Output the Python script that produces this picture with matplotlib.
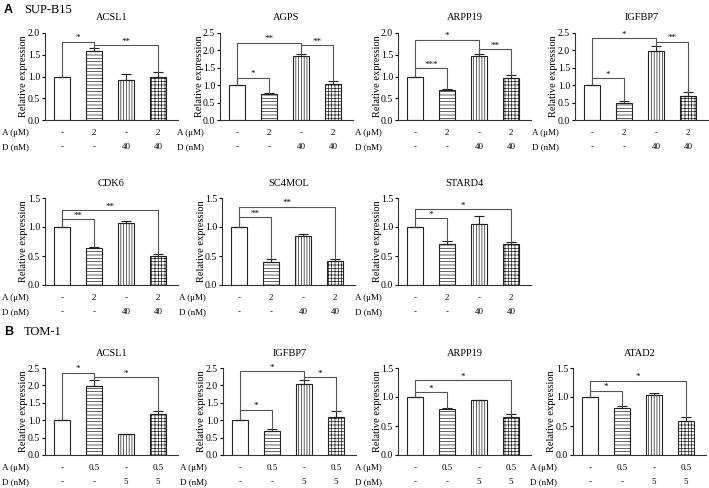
import matplotlib.pyplot as plt
import numpy as np

plt.rcParams['font.family'] = ['Liberation Serif', 'DejaVu Serif']
plt.rcParams['hatch.linewidth'] = 0.5

W, H = 709, 488

# treatment rows under the bars
a_sup = ["-", "2", "-", "2"]
d_sup = ["-", "-", "40", "40"]
a_tom = ["-", "0.5", "-", "0.5"]
d_tom = ["-", "-", "5", "5"]

# SUP-B15 (mean, upper error)
acsl1_sup = [1.00, 1.58, 0.93, 1.00]
acsl1_sup_err = [0.0, 0.07, 0.13, 0.11]
agps_sup = [1.00, 0.76, 1.83, 1.03]
agps_sup_err = [0.0, 0.03, 0.07, 0.10]
arpp19_sup = [1.00, 0.69, 1.47, 0.96]
arpp19_sup_err = [0.0, 0.02, 0.04, 0.08]
igfbp7_sup = [1.00, 0.48, 1.99, 0.69]
igfbp7_sup_err = [0.0, 0.08, 0.15, 0.11]
cdk6_sup = [1.00, 0.63, 1.07, 0.50]
cdk6_sup_err = [0.0, 0.02, 0.03, 0.03]
sc4mol_sup = [1.00, 0.39, 0.84, 0.41]
sc4mol_sup_err = [0.0, 0.05, 0.04, 0.03]
stard4_sup = [1.00, 0.70, 1.06, 0.70]
stard4_sup_err = [0.0, 0.06, 0.13, 0.05]

# TOM-1
acsl1_tom = [1.00, 1.98, 0.60, 1.17]
acsl1_tom_err = [0.0, 0.17, 0.01, 0.10]
igfbp7_tom = [1.00, 0.70, 2.04, 1.08]
igfbp7_tom_err = [0.0, 0.06, 0.12, 0.18]
arpp19_tom = [1.00, 0.79, 0.94, 0.65]
arpp19_tom_err = [0.0, 0.02, 0.005, 0.05]
atad2_tom = [1.00, 0.81, 1.04, 0.59]
atad2_tom_err = [0.0, 0.04, 0.03, 0.06]

# significance brackets: (bar i, bar j, bracket height, label)
acsl1_sup_sig = [(0, 1, 1.80, "*"), (1, 3, 1.72, "**")]
agps_sup_sig = [(0, 1, 1.22, "*"), (0, 2, 2.22, "**"), (2, 3, 2.15, "**")]
arpp19_sup_sig = [(0, 1, 1.19, "***"), (0, 2, 1.85, "*"), (2, 3, 1.63, "**")]
igfbp7_sup_sig = [(0, 1, 1.20, "*"), (0, 2, 2.35, "*"), (2, 3, 2.25, "**")]
cdk6_sup_sig = [(0, 1, 1.13, "**"), (0, 3, 1.29, "**")]
sc4mol_sup_sig = [(0, 1, 1.17, "**"), (0, 3, 1.35, "**")]
stard4_sup_sig = [(0, 1, 1.15, "*"), (0, 3, 1.31, "*")]
acsl1_tom_sig = [(0, 1, 2.36, "*"), (1, 3, 2.24, "*")]
igfbp7_tom_sig = [(0, 1, 1.30, "*"), (0, 2, 2.40, "*"), (2, 3, 2.24, "*")]
arpp19_tom_sig = [(0, 1, 1.08, "*"), (0, 3, 1.29, "*")]
atad2_tom_sig = [(0, 1, 1.11, "*"), (0, 3, 1.28, "*")]

fig = plt.figure(figsize=(W / 100, H / 100), dpi=100)

hatches = ['', '-----', '||||||', '+++++']


def panel(left, top, title, means, errs, ymax, sig, a_lab, d_lab, width=133, height=87):
    ax = fig.add_axes([left / W, 1 - (top + height) / H, width / W, height / H])
    x = np.arange(len(means))
    for i in x:
        ax.bar(x[i], means[i], 0.5, color='white', edgecolor='#222222',
               hatch=hatches[i], linewidth=0.8)
    ax.errorbar(x, means, yerr=[np.zeros(len(errs)), errs], fmt='none',
                ecolor='#222222', elinewidth=0.8, capsize=3.5, capthick=0.8)
    tops = np.array(means) + np.array(errs)
    for i, j, h, lab in sig:
        ax.plot([i, i, j, j], [tops[i], h, h, tops[j]], color='#555555', lw=0.8)
        ax.text((i + j) / 2, h + 3.5 / height * ymax, lab, ha='center', va='center',
                fontsize=6.5)

    ax.set_xlim(-0.53, 3.62)
    ax.set_ylim(0, ymax)
    ticks = np.arange(0, ymax + 1e-9, 0.5)
    ax.set_yticks(ticks)
    ax.set_yticklabels([f"{v:.1f}" for v in ticks])
    ax.tick_params(axis='y', direction='out', length=2.5, width=0.8, labelsize=7, pad=1)
    ax.tick_params(axis='x', length=0, labelbottom=False)
    for s in ['top', 'right']:
        ax.spines[s].set_visible(False)
    for s in ['left', 'bottom']:
        ax.spines[s].set_linewidth(0.8)
        ax.spines[s].set_color('#333333')

    ax.text(0.5, 1 + 15 / height, title, transform=ax.transAxes,
            ha='center', va='center', fontsize=7.5)
    ax.text(-21 / width, 0.5, "Relative expression", transform=ax.transAxes,
            rotation=90, ha='center', va='center', fontsize=7.5)

    trans = ax.get_xaxis_transform()
    ax.text(-43 / width, -13 / height, "A (μM)", transform=ax.transAxes,
            ha='left', va='center', fontsize=6.5)
    ax.text(-43 / width, -27 / height, "D (nM)", transform=ax.transAxes,
            ha='left', va='center', fontsize=6.5)
    for i in x:
        ax.text(i, -13 / height, a_lab[i], transform=trans, ha='center', va='center', fontsize=6.5)
        ax.text(i, -27 / height, d_lab[i], transform=trans, ha='center', va='center', fontsize=6.5)
    return ax


# A: SUP-B15
panel(45, 33, "ACSL1", acsl1_sup, acsl1_sup_err, 2.0, acsl1_sup_sig, a_sup, d_sup)
panel(220, 33, "AGPS", agps_sup, agps_sup_err, 2.5, agps_sup_sig, a_sup, d_sup)
panel(398, 33, "ARPP19", arpp19_sup, arpp19_sup_err, 2.0, arpp19_sup_sig, a_sup, d_sup)
panel(575, 33, "IGFBP7", igfbp7_sup, igfbp7_sup_err, 2.5, igfbp7_sup_sig, a_sup, d_sup)
panel(45, 198, "CDK6", cdk6_sup, cdk6_sup_err, 1.5, cdk6_sup_sig, a_sup, d_sup)
panel(222, 198, "SC4MOL", sc4mol_sup, sc4mol_sup_err, 1.5, sc4mol_sup_sig, a_sup, d_sup)
panel(398, 198, "STARD4", stard4_sup, stard4_sup_err, 1.5, stard4_sup_sig, a_sup, d_sup)

# B: TOM-1
panel(45, 368, "ACSL1", acsl1_tom, acsl1_tom_err, 2.5, acsl1_tom_sig, a_tom, d_tom)
panel(223, 368, "IGFBP7", igfbp7_tom, igfbp7_tom_err, 2.5, igfbp7_tom_sig, a_tom, d_tom)
panel(398, 368, "ARPP19", arpp19_tom, arpp19_tom_err, 1.5, arpp19_tom_sig, a_tom, d_tom)
panel(573, 368, "ATAD2", atad2_tom, atad2_tom_err, 1.5, atad2_tom_sig, a_tom, d_tom)

fig.text(4 / W, 1 - 10 / H, "A", fontsize=9, fontweight='bold', family='Liberation Sans', va='center')
fig.text(24 / W, 1 - 10 / H, "SUP-B15", fontsize=9, va='center')
fig.text(4 / W, 1 - 332 / H, "B", fontsize=9, fontweight='bold', family='Liberation Sans', va='center')
fig.text(24 / W, 1 - 332 / H, "TOM-1", fontsize=9, va='center')

fig.savefig("out.png", dpi=100)
